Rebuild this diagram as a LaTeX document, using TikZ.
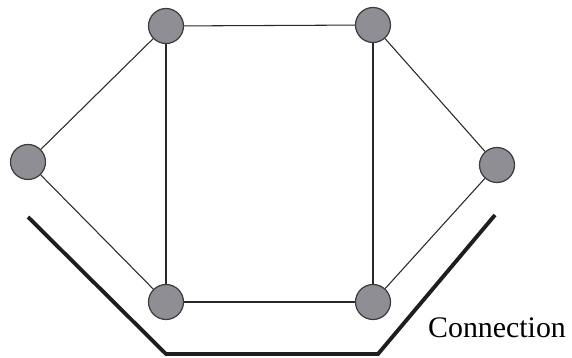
\documentclass[tikz,border=0pt]{standalone}
\usepackage{fontspec}
\setmainfont{Liberation Serif}
\usetikzlibrary{positioning}
\definecolor{vertexgray}{RGB}{142,142,148}
\definecolor{vertexrim}{RGB}{60,60,62}
\definecolor{edgegray}{RGB}{40,40,40}
\definecolor{connblack}{RGB}{30,30,30}

\begin{document}
\begin{tikzpicture}[x=0.02cm, y=-0.02cm,
  vertex/.style={circle,draw=vertexrim,fill=vertexgray,line width=0.7pt,minimum size=0.7cm,inner sep=0pt},
  link/.style={edgegray,line width=0.6pt}]
\useasboundingbox (0,0) rectangle (572,358);
% vertices
\node[vertex] (left) at (28,162) {};
\node[vertex] (tl) at (166,26) {};
\node[vertex] (tr) at (373,25) {};
\node[vertex] (right) at (497,165) {};
\node[vertex] (bl) at (166,302) {};
\node[vertex] (br) at (373,302) {};
% edges
\begin{scope}[on background layer/.try]
\draw[link] (left) -- (tl);
\draw[link] (left) -- (bl);
\draw[link] (tl) -- (tr);
\draw[link] (tl) -- (bl);
\draw[link] (tr) -- (br);
\draw[link] (tr) -- (right);
\draw[link] (right) -- (br);
\draw[link] (bl) -- (br);
\end{scope}
% connection
\coordinate (c1) at (28,217);
\coordinate (c2) at (166,354);
\coordinate (c3) at (378,354);
\coordinate (c4) at (495,215);
\draw[connblack,line width=2.2pt] (c1) -- (c2) -- (c3) -- (c4);
\node[font=\fontsize{17}{20}\selectfont,inner sep=0pt] (lbl) at (497,328) {Connection};
\end{tikzpicture}
\end{document}
